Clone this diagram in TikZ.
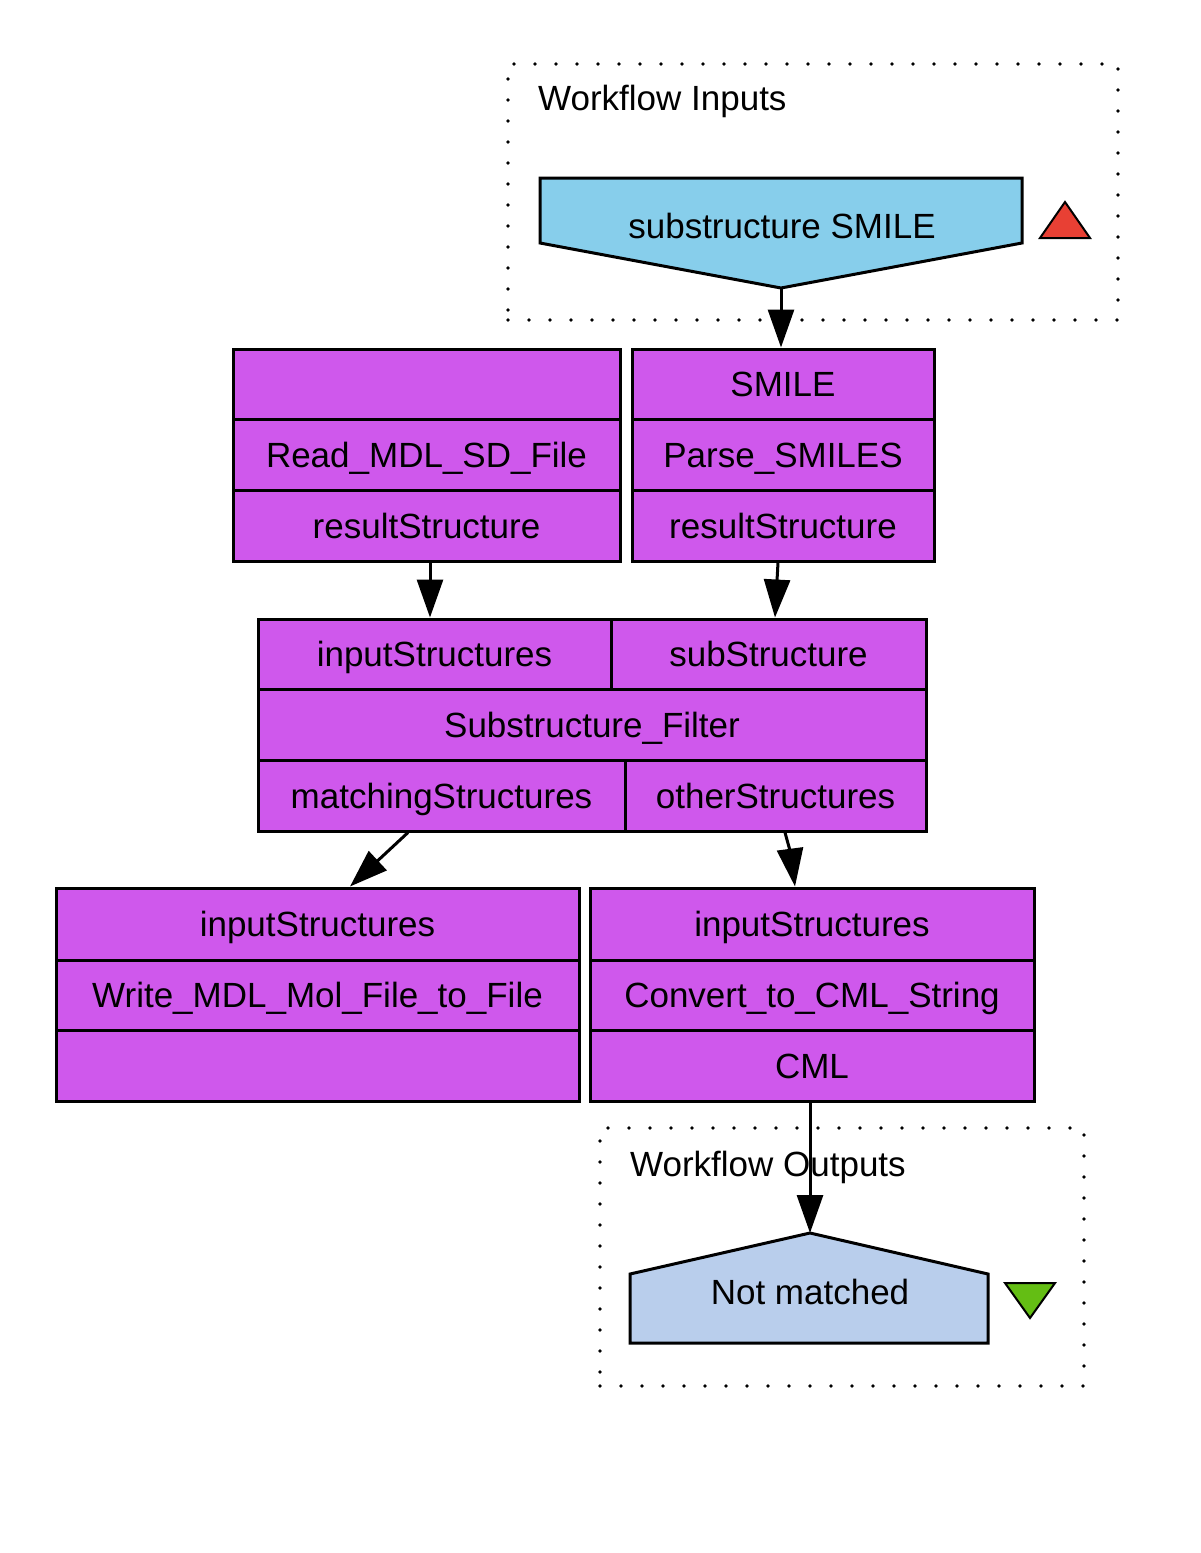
\documentclass[tikz,border=0pt]{standalone}
\usepackage{fontspec}
\setmainfont{Liberation Sans}
\usetikzlibrary{arrows.meta}
\definecolor{procpurple}{RGB}{207,88,236}
\definecolor{inblue}{RGB}{135,206,235}
\definecolor{outblue}{RGB}{185,206,236}
\definecolor{trired}{RGB}{232,64,52}
\definecolor{trigreen}{RGB}{100,190,20}
\begin{document}
\begin{tikzpicture}[x=1pt,y=-1pt,
  txt/.style={font=\fontsize{35}{40}\selectfont, text height=25pt, text depth=0pt, inner sep=0pt},
  cell/.style={txt, draw=black, line width=3pt, fill=procpurple, rectangle, minimum height=71pt},
  arr/.style={line width=3pt, -{Triangle[length=38pt,width=26pt]}},
  cluster/.style={draw=black, line width=3.6pt, dash pattern=on 0pt off 21pt, line cap=round, rectangle, inner sep=0pt},
  lbl/.style={font=\fontsize{35}{40}\selectfont, inner sep=0pt, anchor=base west}
]
\useasboundingbox (0,0) rectangle (1200,1553);

% Workflow inputs cluster
\node[cluster, minimum width=610pt, minimum height=256pt] (cin) at (813,192) {};
\node[lbl] (cinlbl) at (538,110) {Workflow Inputs};
\draw[line width=3pt, fill=inblue] (540,178) -- (1022,178) -- (1022,243) -- (781,288) -- (540,243) -- cycle;
\coordinate (inapex) at (781,288);
\node[txt] (intxt) at (782,226) {substructure SMILE};
\draw[line width=2pt, fill=trired] (1065,202) -- (1090,238) -- (1040,238) -- cycle;

% Read_MDL_SD_File
\node[cell, minimum width=387pt, minimum height=70pt] (read1) at (426.5,384) {};
\node[cell, minimum width=387pt] (read2) at (426.5,454.5) {Read\_MDL\_SD\_File};
\node[cell, minimum width=387pt] (read3) at (426.5,525.5) {resultStructure};

% Parse_SMILES
\node[cell, minimum width=302pt, minimum height=70pt] (parse1) at (783,384) {SMILE};
\node[cell, minimum width=302pt] (parse2) at (783,454.5) {Parse\_SMILES};
\node[cell, minimum width=302pt] (parse3) at (783,525.5) {resultStructure};

% Substructure_Filter
\node[cell, minimum width=353pt, minimum height=70pt] (fin) at (434.5,654) {inputStructures};
\node[cell, minimum width=315pt, minimum height=70pt] (fsub) at (768.5,654) {subStructure};
\node[cell, minimum width=668pt] (fname) at (592,724.5) {Substructure\_Filter};
\node[cell, minimum width=367pt] (fmatch) at (441.5,795.5) {matchingStructures};
\node[cell, minimum width=301pt] (fother) at (775.5,795.5) {otherStructures};

% Write_MDL_Mol_File_to_File
\node[cell, minimum width=523pt, minimum height=72pt] (win) at (317.5,924) {inputStructures};
\node[cell, minimum width=523pt, minimum height=70pt] (wname) at (317.5,995) {Write\_MDL\_Mol\_File\_to\_File};
\node[cell, minimum width=523pt] (wout) at (317.5,1065.5) {};

% Convert_to_CML_String
\node[cell, minimum width=444pt, minimum height=72pt] (cin1) at (812,924) {inputStructures};
\node[cell, minimum width=444pt, minimum height=70pt] (cname) at (812,995) {Convert\_to\_CML\_String};
\node[cell, minimum width=444pt] (cml) at (812,1065.5) {CML};

% Workflow outputs cluster
\node[cluster, minimum width=484pt, minimum height=258pt] (cout) at (842,1257) {};
\node[lbl] (coutlbl) at (630,1176) {Workflow Outputs};
\draw[line width=3pt, fill=outblue] (630,1274) -- (810,1233) -- (988,1274) -- (988,1343) -- (630,1343) -- cycle;
\coordinate (outapex) at (810,1233);
\node[txt] (outtxt) at (810,1292) {Not matched};
\draw[line width=2pt, fill=trigreen] (1005,1283) -- (1055,1283) -- (1030,1318) -- cycle;

% connectors
\draw[arr] (inapex) -- (parse1.north -| inapex);
\draw[arr] ([xshift=3.5pt]read3.south) -- ([xshift=-4.5pt]fin.north);
\draw[arr] ([xshift=-5pt]parse3.south) -- ([xshift=6.5pt]fsub.north);
\draw[arr] ([xshift=-33.5pt]fmatch.south) -- ([xshift=32.5pt]win.north);
\draw[arr] ([xshift=9.5pt]fother.south) .. controls ([xshift=15pt,yshift=-20pt]fother.south) .. ([xshift=-17pt]cin1.north);
\draw[arr] ([xshift=-2pt]cml.south) -- (outapex);
\end{tikzpicture}
\end{document}
